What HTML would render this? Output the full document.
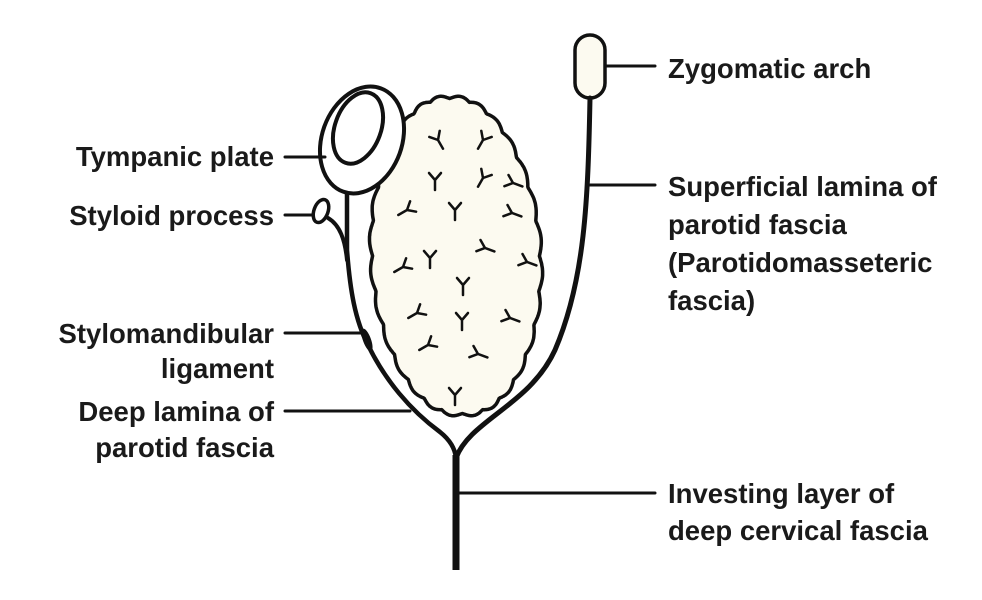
<!DOCTYPE html>
<html><head><meta charset="utf-8"><style>
html,body{margin:0;padding:0;background:#fff;}
svg{display:block}
text{font-family:"Liberation Sans",sans-serif;font-size:27.5px;font-weight:bold;fill:#1a1a1a;}
</style></head><body>
<svg width="982" height="600" viewBox="0 0 982 600">
<g fill="none" stroke="#111" stroke-linecap="round">
 <path id="gland" fill="#fcfaf0" stroke-width="3.5" stroke-linejoin="round"/>
 <rect x="575" y="35" width="30" height="63" rx="15" fill="#fcfaf0" stroke-width="3.5"/>
 <path d="M590 98 C588 200 585 280 555 350 C530 405 470 420 456 458" stroke-width="5"/>
 <path d="M347 193 L347 250 C350 290 355 320 368 345 C385 380 410 410 440 432 C450 440 455 448 456 458" stroke-width="4.5"/>
 <path d="M328 218 C340 225 345 240 347 260" stroke-width="4"/>
 <ellipse cx="321" cy="211" rx="7" ry="12" transform="rotate(20 321 211)" fill="#fff" stroke-width="3.5"/>
 <ellipse cx="367" cy="340" rx="4" ry="12" transform="rotate(-20 367 340)" fill="#111" stroke="none"/>
 <ellipse cx="362" cy="140" rx="40" ry="55" transform="rotate(20 362 140)" fill="#fff" stroke-width="4"/>
 <ellipse cx="358" cy="128" rx="23" ry="37" transform="rotate(20 358 128)" fill="#fff" stroke-width="4"/>
 <line x1="456" y1="455" x2="456" y2="570" stroke-width="7" stroke-linecap="butt"/>
 <g stroke-width="3">
  <line x1="605" y1="66" x2="655" y2="66"/>
  <line x1="590" y1="185" x2="655" y2="185"/>
  <line x1="285" y1="157" x2="325" y2="157"/>
  <line x1="285" y1="215" x2="313" y2="215"/>
  <line x1="285" y1="333" x2="362" y2="333"/>
  <line x1="285" y1="411" x2="410" y2="411"/>
  <line x1="459" y1="493" x2="655" y2="493"/>
 </g>
 <g id="ticks" stroke-width="2.5"></g>
</g>
<text x="668" y="78">Zygomatic arch</text>
<text x="668" y="196">Superficial lamina of</text>
<text x="668" y="234">parotid fascia</text>
<text x="668" y="272">(Parotidomasseteric</text>
<text x="668" y="310">fascia)</text>
<g text-anchor="end">
<text x="274" y="166">Tympanic plate</text>
<text x="274" y="225">Styloid process</text>
<text x="274" y="343">Stylomandibular</text>
<text x="274" y="378">ligament</text>
<text x="274" y="421">Deep lamina of</text>
<text x="274" y="457">parotid fascia</text>
</g>
<text x="668" y="503">Investing layer of</text>
<text x="668" y="540">deep cervical fascia</text>
</svg>
<script>
// gland outline: leaf-like shape with scalloped edge
function base(t){
 var s=Math.sin(t), c=Math.cos(t);
 var cy=256, ry=159, rx=88;
 var y=cy-ry*c;
 var top=(1+c)/2; // 1 at top, 0 at bottom
 var w=rx*(1-0.12*Math.pow(top,3)-0.08*Math.pow(1-top,2));
 var x=456+(y-cy)*0.04+w*(s<0?-1:1)*Math.pow(Math.abs(s),0.9);
 return [x,y];
}
var N=720, pts=[];
for(var i=0;i<N;i++){
 var t=i/N*2*Math.PI;
 var p=base(t), p2=base(t+0.001);
 var dx=p2[0]-p[0], dy=p2[1]-p[1], L=Math.hypot(dx,dy);
 var nx=dy/L, ny=-dx/L;
 var b=3*Math.abs(Math.sin(t*14))-1.5;
 pts.push((p[0]+nx*b).toFixed(1)+" "+(p[1]+ny*b).toFixed(1));
}
document.getElementById('gland').setAttribute('d','M'+pts.join(' L')+'Z');
var tk=[[438,140,1],[483,140,2],[435,180,0],[483,178,2],[513,183,3],[407,210,4],[455,210,0],[512,213,3],[430,258,0],[485,248,3],[527,262,3],[403,267,4],[463,285,0],[417,313,4],[462,320,0],[510,318,3],[428,345,4],[478,354,3],[455,395,0]];
var g=document.getElementById('ticks');
tk.forEach(function(p){
 var a=[0,-30,30,-70,60][p[2]]*Math.PI/180;
 var e=document.createElementNS('http://www.w3.org/2000/svg','path');
 
 
 function r(dx,dy){return (p[0]+dx*Math.cos(a)-dy*Math.sin(a)).toFixed(1)+' '+(p[1]+dx*Math.sin(a)+dy*Math.cos(a)).toFixed(1);}
 e.setAttribute('d','M'+r(0,10)+' L'+r(0,0)+' L'+r(-6,-7)+' M'+r(0,0)+' L'+r(6,-7));
 g.appendChild(e);
});
</script>
</body></html>
